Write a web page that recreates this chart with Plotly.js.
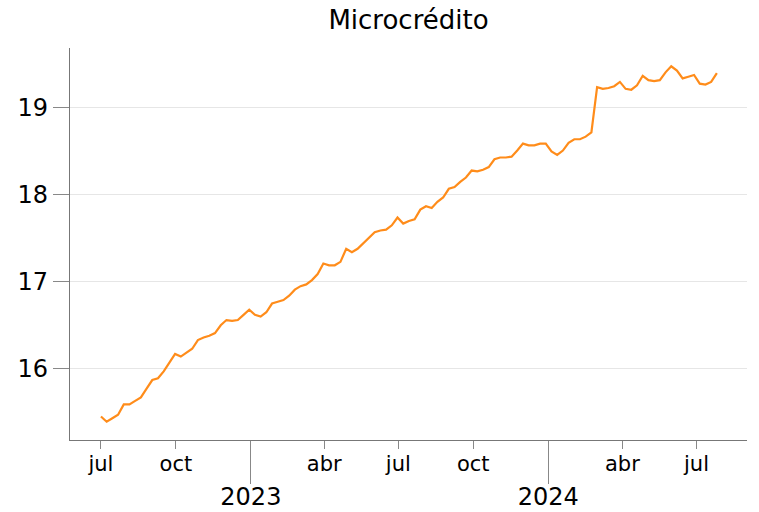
<!DOCTYPE html>
<html>
<head>
<meta charset="utf-8">
<script src="https://cdn.plot.ly/plotly-3.0.1.min.js"></script>
<style>html,body{margin:0;padding:0;background:#fff;}#chart{width:759px;height:512px;}</style>
</head>
<body>
<div id="chart"></div>
<script>
// Weekly series (Fridays) starting 2022-07-01
const startDate = '2022-07-01';
const stepDays = 7;
const values = [
  15.45, 15.39, 15.43, 15.47, 15.59, 15.59, 15.63, 15.67, 15.77, 15.87,
  15.89, 15.97, 16.07, 16.17, 16.14, 16.18, 16.23, 16.33, 16.36, 16.38,
  16.41, 16.50, 16.56, 16.55, 16.56, 16.62, 16.68, 16.62, 16.60, 16.65,
  16.75, 16.77, 16.79, 16.84, 16.91, 16.95, 16.97, 17.02, 17.09, 17.21,
  17.19, 17.19, 17.23, 17.38, 17.34, 17.38, 17.44, 17.51, 17.57, 17.59,
  17.60, 17.65, 17.74, 17.67, 17.70, 17.72, 17.83, 17.87, 17.85, 17.92,
  17.97, 18.07, 18.09, 18.15, 18.20, 18.28, 18.27, 18.29, 18.32, 18.41,
  18.43, 18.43, 18.44, 18.51, 18.59, 18.57, 18.57, 18.59, 18.59, 18.50,
  18.46, 18.51, 18.60, 18.64, 18.64, 18.67, 18.72, 19.24, 19.22, 19.23,
  19.25, 19.30, 19.22, 19.21, 19.26, 19.37, 19.32, 19.31, 19.32, 19.41,
  19.48, 19.43, 19.34, 19.36, 19.38, 19.28, 19.27, 19.30, 19.40
];
const monthTickVals = ['2022-07-01','2022-10-01','2023-04-01','2023-07-01','2023-10-01','2024-04-01','2024-07-01'];
const monthTickText = ['jul','oct','abr','jul','oct','abr','jul'];
const yearTickVals = ['2023-01-01','2024-01-01'];
const yearTickText = ['2023','2024'];
const yTickVals = [16, 17, 18, 19];
const titleText = 'Microcrédito';

const dates = values.map((_, i) => {
  const d = new Date(startDate + 'T00:00:00Z');
  d.setUTCDate(d.getUTCDate() + i * stepDays);
  return d.toISOString().slice(0, 10);
});

const xRange = ['2022-05-24', '2024-09-01'];
const font = 'DejaVu Sans, sans-serif';

const trace = {
  x: dates, y: values, type: 'scatter', mode: 'lines',
  line: {color: '#ff8c1a', width: 2.2}, hoverinfo: 'skip', showlegend: false
};
const dummy = {
  x: xRange, y: [null, null], xaxis: 'x2', yaxis: 'y', type: 'scatter', mode: 'lines',
  showlegend: false, hoverinfo: 'skip'
};

const layout = {
  width: 759, height: 512,
  margin: {l: 70, r: 12, t: 48, b: 72},
  paper_bgcolor: '#fff', plot_bgcolor: '#fff',
  font: {family: font, color: '#000'},
  title: {text: titleText, font: {family: font, size: 26, color: '#000'},
          xref: 'paper', x: 0.5, xanchor: 'center', yref: 'container', y: 0.962, yanchor: 'middle'},
  xaxis: {
    type: 'date', range: xRange,
    tickmode: 'array', tickvals: monthTickVals, ticktext: monthTickText,
    ticks: 'outside', ticklen: 8, tickwidth: 1, tickcolor: '#888',
    ticklabelstandoff: -3,
    tickfont: {family: font, size: 21, color: '#000'},
    showline: true, linecolor: '#777', linewidth: 1.2,
    showgrid: false, zeroline: false, fixedrange: true
  },
  xaxis2: {
    type: 'date', range: xRange, overlaying: 'x', anchor: 'y', side: 'bottom',
    tickmode: 'array', tickvals: yearTickVals, ticktext: yearTickText,
    ticks: 'outside', ticklen: 43, tickwidth: 1.2, tickcolor: '#888',
    ticklabelstandoff: -8,
    tickfont: {family: font, size: 24, color: '#000'},
    showline: false, showgrid: false, zeroline: false, fixedrange: true
  },
  yaxis: {
    range: [15.18, 19.69],
    tickmode: 'array', tickvals: yTickVals,
    ticks: 'outside', ticklen: 16, tickwidth: 1, tickcolor: '#888',
    tickfont: {family: font, size: 24, color: '#000'},
    showline: true, linecolor: '#777', linewidth: 1.2,
    showgrid: true, gridcolor: '#e6e6e6', gridwidth: 1,
    zeroline: false, fixedrange: true
  }
};

Plotly.newPlot('chart', [trace, dummy], layout, {displayModeBar: false, staticPlot: true});
</script>
</body>
</html>
